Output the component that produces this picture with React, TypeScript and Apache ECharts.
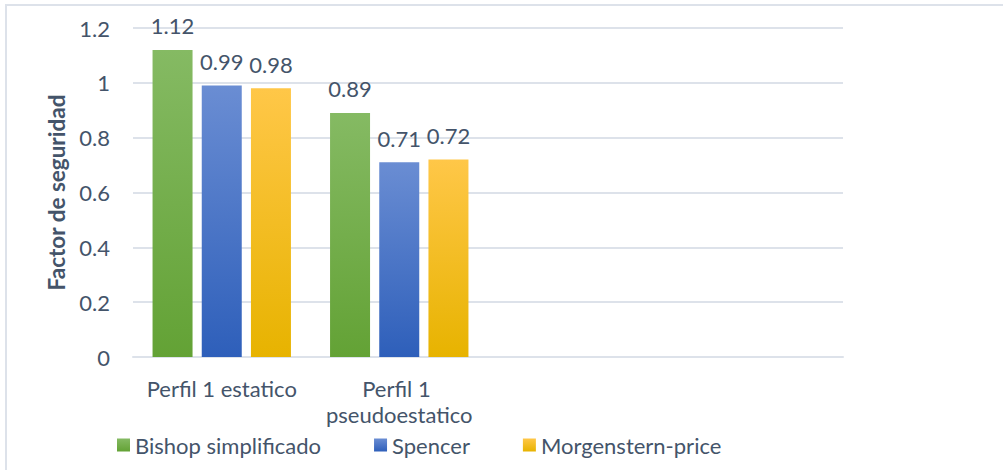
import React, { useEffect, useRef } from "react";
import * as echarts from "echarts";

// Factor de seguridad por perfil y método de equilibrio límite
const categories = ["Perfil 1 estatico", "Perfil 1 pseudoestatico", "", ""];
const bishop = [1.12, 0.89];
const spencer = [0.99, 0.71];
const morgenstern = [0.98, 0.72];
const yTicks = { min: 0, max: 1.2, interval: 0.2 };

const FONT = "Lato, 'Open Sans', sans-serif";
const TEXT = "#44546a";
const GRID = "#dde2ea";
const FS = 22;

const grad = (top: string, bottom: string) =>
  new echarts.graphic.LinearGradient(0, 0, 0, 1, [
    { offset: 0, color: top },
    { offset: 1, color: bottom },
  ]);

export default function App() {
  const ref = useRef<HTMLDivElement>(null);

  useEffect(() => {
    if (!ref.current) return;
    const chart = echarts.init(ref.current, null, { renderer: "svg" });

    const label = {
      show: true,
      position: "top",
      distance: 13,
      color: TEXT,
      fontSize: FS,
      fontFamily: FONT,
      formatter: (p: any) => String(p.value),
    };

    const mk = (name: string, data: number[], top: string, bottom: string) => ({
      name,
      type: "bar",
      data,
      barWidth: 40,
      barGap: "23%",
      itemStyle: { color: grad(top, bottom) },
      label,
    });

    chart.setOption({
      animation: false,
      backgroundColor: "#ffffff",
      textStyle: { fontFamily: FONT },
      graphic: [
        {
          type: "rect",
          shape: { x: 6, y: 5, width: 1010, height: 480 },
          style: { fill: "none", stroke: GRID, lineWidth: 2 },
          silent: true,
        },
      ],
      grid: { left: 133, right: 160, top: 28, bottom: 113, containLabel: false },
      legend: {
        left: 112,
        top: 429,
        itemGap: 53,
        itemWidth: 13,
        itemHeight: 13,
        icon: "rect",
        textStyle: { color: TEXT, fontSize: FS, fontFamily: FONT, padding: [0, 0, 0, 0] },
        data: ["Bishop simplificado", "Spencer", "Morgenstern-price"],
      },
      xAxis: {
        type: "category",
        data: categories,
        axisLine: { show: true, lineStyle: { color: GRID, width: 2 } },
        axisTick: { show: false },
        axisLabel: {
          color: TEXT,
          fontSize: FS,
          fontFamily: FONT,
          margin: 18,
          lineHeight: 26,
          width: 174,
          overflow: "break",
          interval: 0,
        },
      },
      yAxis: {
        type: "value",
        min: yTicks.min,
        max: yTicks.max,
        interval: yTicks.interval,
        name: "Factor de seguridad",
        nameLocation: "middle",
        nameGap: 59,
        nameTextStyle: { color: TEXT, fontSize: 22.5, fontWeight: "bold", fontFamily: FONT },
        axisLine: { show: false },
        axisTick: { show: false },
        splitLine: { lineStyle: { color: GRID, width: 2 } },
        axisLabel: {
          color: TEXT,
          fontSize: FS,
          fontFamily: FONT,
          margin: 23,
          formatter: (v: number) => String(Math.round(v * 10) / 10),
        },
      },
      series: [
        mk("Bishop simplificado", bishop, "#85ba63", "#63a235"),
        mk("Spencer", spencer, "#6a8dd3", "#2e5fba"),
        mk("Morgenstern-price", morgenstern, "#ffc748", "#e7b300"),
      ],
    });

    return () => chart.dispose();
  }, []);

  return (
    <div
      ref={ref}
      style={{ position: "fixed", left: 0, top: 0, width: 1003, height: 470 }}
    />
  );
}
